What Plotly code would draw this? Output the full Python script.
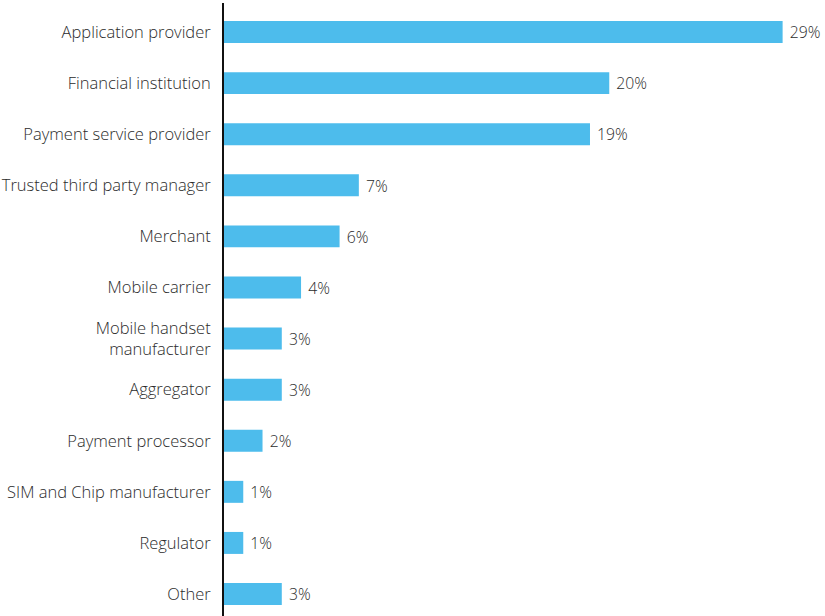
import plotly.graph_objects as go

categories = [
    "Application provider",
    "Financial institution",
    "Payment service provider",
    "Trusted third party manager",
    "Merchant",
    "Mobile carrier",
    "Mobile handset<br>manufacturer",
    "Aggregator",
    "Payment processor",
    "SIM and Chip manufacturer",
    "Regulator",
    "Other",
]
shares = [29, 20, 19, 7, 6, 4, 3, 3, 2, 1, 1, 3]
labels = [f"{v}%" for v in shares]

BAR = "#4DBCEC"
TEXT = "#2b2b2b"
FONT = "Open Sans"
SIZE = 16.5

fig = go.Figure(
    go.Bar(
        x=shares,
        y=categories,
        orientation="h",
        marker=dict(color=BAR, line=dict(width=0)),
        width=0.43,
        text=["\u00a0" + t for t in labels],
        textposition="outside",
        cliponaxis=False,
        textfont=dict(family=FONT, size=SIZE, color=TEXT, weight=300),
        hoverinfo="skip",
    )
)

fig.update_layout(
    width=825,
    height=616,
    margin=dict(l=224, r=0, t=3, b=0),
    paper_bgcolor="white",
    plot_bgcolor="white",
    showlegend=False,
    font=dict(family=FONT, size=SIZE, color=TEXT, weight=300),
    xaxis=dict(
        range=[0, 31.2],
        visible=False,
        fixedrange=True,
    ),
    yaxis=dict(
        type="category",
        categoryorder="array",
        categoryarray=categories,
        range=[11.43, -0.568],
        showline=True,
        linecolor="#111111",
        linewidth=2,
        showgrid=False,
        zeroline=False,
        ticks="",
        ticklabelstandoff=8,
        tickfont=dict(family=FONT, size=SIZE, color=TEXT, weight=300),
        fixedrange=True,
    ),
)

fig.write_html("out.html")
